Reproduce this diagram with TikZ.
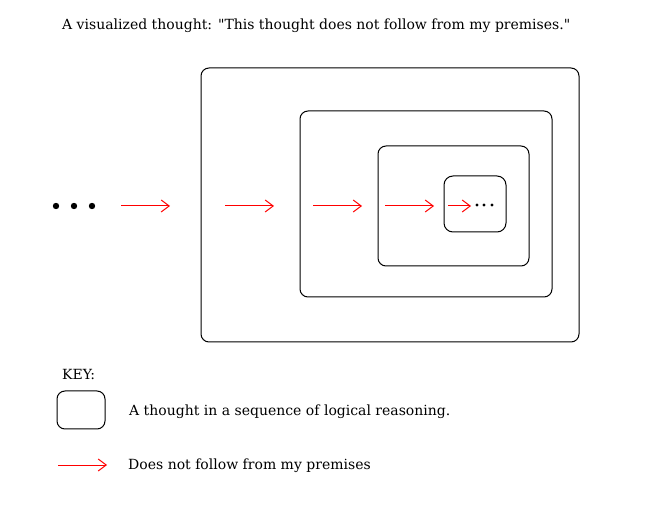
\documentclass[tikz,border=0pt]{standalone}
\usepackage{fontspec}
\setmainfont{DejaVu Serif}
\usetikzlibrary{arrows.meta}
\begin{document}
\begin{tikzpicture}[x=1pt,y=-1pt,
    thought/.style={draw,line width=1pt,rounded corners=8pt},
    premise/.style={red,line width=1pt,-{Straight Barb[length=8pt,width=12pt]}},
    label/.style={anchor=west,inner sep=0pt,font=\fontsize{14}{16}\selectfont}]
    \useasboundingbox (0,0) rectangle (648,518);
    \node[label] (title) at (62,26) {A visualized thought: \textquotedbl This thought does not follow from my premises.\textquotedbl};
    %nested thoughts
    \draw[thought] (201,68) rectangle (579,342);
    \draw[thought] (300,111) rectangle (552,297);
    \draw[thought] (378,146) rectangle (529,266);
    \draw[thought,rounded corners=9pt] (444,176) rectangle (506,232);
    \foreach \x in {56,74,92} \fill (\x,206) circle (3.2);
    \foreach \x in {477,484,492} \fill (\x,205) circle (1.7);
    \coordinate (a1) at (121,206); \coordinate (b1) at (170,206);
    \coordinate (a2) at (225,206); \coordinate (b2) at (274,206);
    \coordinate (a3) at (313,206); \coordinate (b3) at (362,206);
    \coordinate (a4) at (385,206); \coordinate (b4) at (434,206);
    \coordinate (a5) at (448,206); \coordinate (b5) at (471,206);
    \foreach \i in {1,...,5} \draw[premise] (a\i) -- (b\i);
    %key
    \node[label] (key) at (62,374) {KEY:};
    \draw[thought] (57,391) rectangle (105,429);
    \node[label] (keybox) at (129,412) {A thought in a sequence of logical reasoning.};
    \coordinate (ka) at (58,465); \coordinate (kb) at (107,465);
    \draw[premise] (ka) -- (kb);
    \node[label] (keyarrow) at (128,466) {Does not follow from my premises};
\end{tikzpicture}
\end{document}
